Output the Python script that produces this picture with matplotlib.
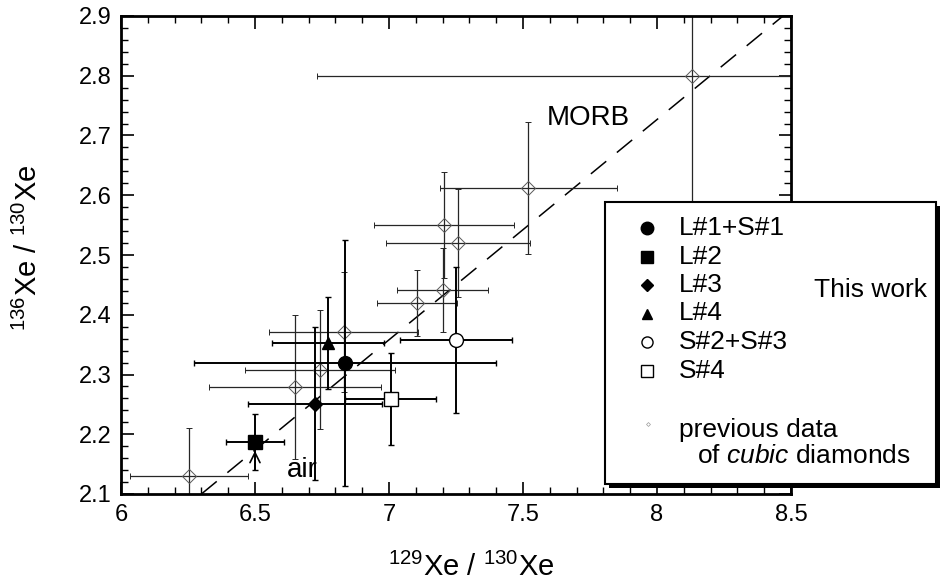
import matplotlib

matplotlib.use("Agg")
import matplotlib.pyplot as plt
from matplotlib.patches import Rectangle
from matplotlib.ticker import FuncFormatter, MultipleLocator

plt.rcParams["font.family"] = ["Liberation Sans", "DejaVu Sans"]
plt.rcParams["mathtext.fontset"] = "custom"
plt.rcParams["mathtext.rm"] = "Liberation Sans"
plt.rcParams["mathtext.it"] = "Liberation Sans:italic"

# this work (xe129/xe130, xe136/xe130 with 1 sigma errors)
work_labels = ["L#1+S#1", "L#2", "L#3", "L#4", "S#2+S#3", "S#4"]
work_x = [6.836, 6.500, 6.724, 6.772, 7.250, 7.007]
work_xerr = [0.563, 0.110, 0.250, 0.210, 0.210, 0.170]
work_y = [2.319, 2.187, 2.251, 2.353, 2.358, 2.259]
work_yerr = [0.206, 0.047, 0.128, 0.077, 0.122, 0.077]

# previous data of cubic diamonds
prev_x = [6.254, 6.649, 6.743, 6.832, 7.104, 7.201, 7.205, 7.257, 7.519, 8.130]
prev_xerr = [0.220, 0.320, 0.280, 0.278, 0.150, 0.170, 0.260, 0.270, 0.330, 1.400]
prev_y = [2.130, 2.279, 2.308, 2.371, 2.420, 2.441, 2.550, 2.520, 2.612, 2.800]
prev_yerr = [0.080, 0.120, 0.100, 0.100, 0.055, 0.070, 0.089, 0.090, 0.110, 0.500]

# air - MORB correlation line
morb_x = [6.30, 8.47]
morb_y = [2.10, 2.90]

x_ticks = [6, 6.5, 7, 7.5, 8, 8.5]
y_ticks = [2.1, 2.2, 2.3, 2.4, 2.5, 2.6, 2.7, 2.8, 2.9]

styles = {
    "L#1+S#1": dict(marker="o", ms=10, mfc="black", mec="black"),
    "L#2": dict(marker="s", ms=10, mfc="black", mec="black"),
    "L#3": dict(marker="D", ms=7, mfc="black", mec="black"),
    "L#4": dict(marker="^", ms=9, mfc="black", mec="black"),
    "S#2+S#3": dict(marker="o", ms=10, mfc="white", mec="black"),
    "S#4": dict(marker="s", ms=10, mfc="white", mec="black"),
}
legend_ms = {"L#1+S#1": 9, "L#2": 8, "L#3": 6, "L#4": 7, "S#2+S#3": 8, "S#4": 8}

W, H = 941, 581
fig = plt.figure(figsize=(W / 100, H / 100), dpi=100)
ax = fig.add_axes([121 / W, 87 / H, 670 / W, 478 / H])

ax.plot(morb_x, morb_y, color="black", lw=1.1, ls=(0, (13, 9)), zorder=1)

ax.errorbar(prev_x, prev_y, xerr=prev_xerr, yerr=prev_yerr, fmt="D", ms=7,
            mfc="none", mec="0.35", mew=0.7, ecolor="0.15", elinewidth=0.9,
            capsize=2.2, capthick=0.9, zorder=2)

for lab, x, xe, y, ye in zip(work_labels, work_x, work_xerr, work_y, work_yerr):
    st = styles[lab]
    ax.errorbar([x], [y], xerr=[xe], yerr=[ye], fmt=st["marker"], ms=st["ms"],
                mfc=st["mfc"], mec=st["mec"], mew=1.0, ecolor="black",
                elinewidth=1.4, capsize=2.2, capthick=1.2, zorder=3)

ax.text(7.59, 2.73, "MORB", fontsize=20, ha="left", va="center")
ax.text(6.62, 2.14, "air", fontsize=20, ha="left", va="center")
ax.annotate("", xy=(work_x[1], work_y[1] - 0.01), xytext=(work_x[1], work_y[1] - 0.05),
            arrowprops=dict(arrowstyle="->", lw=1.2, color="black",
                            mutation_scale=18), zorder=4)

ax.set_xlim(6, 8.5)
ax.set_ylim(2.1, 2.9)
ax.set_xticks(x_ticks)
ax.set_yticks(y_ticks)
ax.xaxis.set_minor_locator(MultipleLocator(0.1))
ax.yaxis.set_minor_locator(MultipleLocator(0.02))
ax.xaxis.set_major_formatter(FuncFormatter(lambda v, p: f"{v:g}"))
ax.yaxis.set_major_formatter(FuncFormatter(lambda v, p: f"{v:.1f}"))
ax.tick_params(which="both", direction="in", top=True, right=True,
               labelsize=17, pad=7)
ax.tick_params(which="major", length=9, width=1.2)
ax.tick_params(which="minor", length=5, width=1.0)
for sp in ax.spines.values():
    sp.set_linewidth(2)

fig.text(471 / W, 1 - 567 / H, r"$^{129}$Xe / $^{130}$Xe", fontsize=21,
         ha="center", va="center")
fig.text(28 / W, 1 - 248 / H, r"$^{136}$Xe / $^{130}$Xe", fontsize=21,
         ha="center", va="center", rotation=90)

# legend box drawn in pixel space on top of everything
ov = fig.add_axes([0, 0, 1, 1], zorder=5)
ov.set_xlim(0, W)
ov.set_ylim(H, 0)
ov.axis("off")

ov.add_patch(Rectangle((609, 206), 331, 282, facecolor="black", edgecolor="none"))
ov.add_patch(Rectangle((605, 202), 331, 282, facecolor="white",
                       edgecolor="black", lw=1.5))

row_y = [228, 256.5, 285, 313.5, 342, 370.5]
for lab, ry in zip(work_labels, row_y):
    st = styles[lab]
    ov.plot([647], [ry], marker=st["marker"], ms=legend_ms[lab], mfc=st["mfc"],
            mec=st["mec"], mew=1.0, ls="none")
    ov.text(679, ry, lab, fontsize=19, ha="left", va="center")

ov.text(927, 290, "This work", fontsize=19, ha="right", va="center")
ov.plot([648], [424], marker="D", ms=2, mfc="none", mec="0.6", mew=0.5, ls="none")
ov.text(679, 430, "previous data", fontsize=19, ha="left", va="center")
ov.text(697, 456, r"of $\mathit{cubic}$ diamonds", fontsize=19, ha="left",
        va="center")

fig.savefig("out.png", dpi=100)
